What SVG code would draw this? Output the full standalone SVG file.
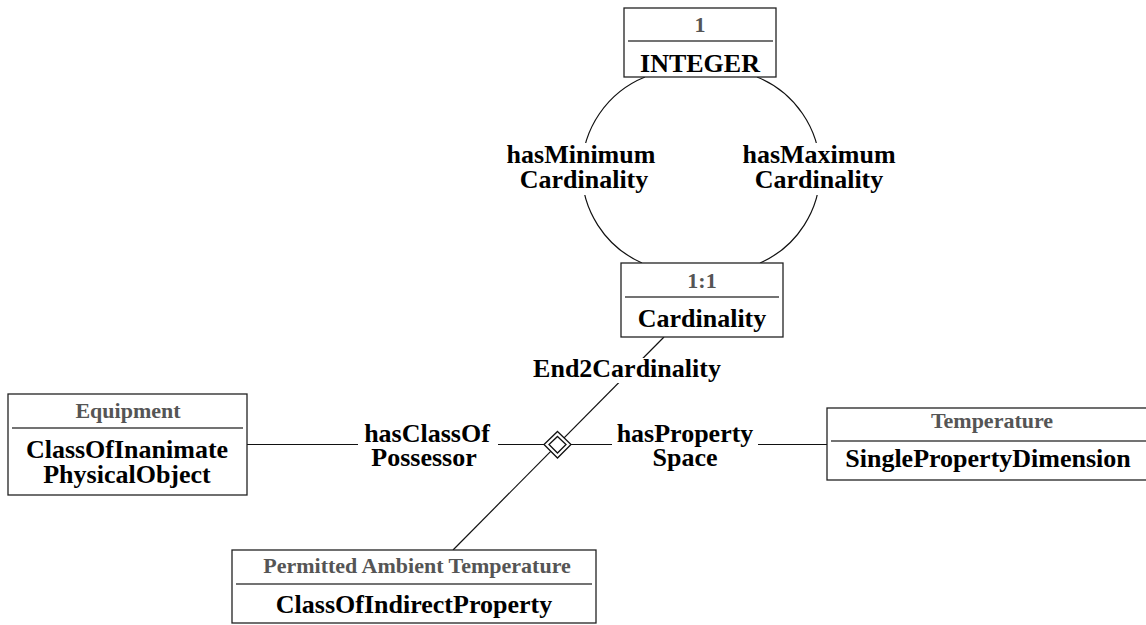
<svg xmlns="http://www.w3.org/2000/svg" width="1146" height="625" viewBox="0 0 1146 625" font-family="Liberation Serif, DejaVu Serif, serif" font-weight="bold">
  <style>
    .box { fill: #fff; stroke: #222; stroke-width: 1.3; }
    .div { stroke: #444; stroke-width: 1.5; }
    .hdr { font-size: 22px; fill: #555; text-anchor: middle; }
    .name { font-size: 26px; fill: #000; text-anchor: middle; }
    .conn { fill: none; stroke: #111; stroke-width: 1.2; }
    .lbl { font-size: 26px; fill: #000; text-anchor: middle; }
    .bg { fill: #fff; }
  </style>
  <rect width="1146" height="625" fill="#fff"/>

  <!-- connectors -->
  <g id="connectors">
    <path class="conn" d="M645,77 A101,101 0 0,0 642,263"/>
    <path class="conn" d="M757,77 A101,101 0 0,1 760,263"/>
    <line class="conn" x1="664" y1="337" x2="453" y2="550"/>
    <line class="conn" x1="247" y1="444.5" x2="827" y2="444.5"/>

    <!-- label backgrounds -->
    <rect class="bg" x="502" y="143" width="158" height="52"/>
    <rect class="bg" x="739" y="143" width="161" height="52"/>
    <rect class="bg" x="530" y="358" width="195" height="25"/>
    <rect class="bg" x="358" y="420" width="140" height="50"/>
    <rect class="bg" x="612" y="420" width="146" height="50"/>

    <text class="lbl" x="581" y="163">hasMinimum</text>
    <text class="lbl" x="584" y="188">Cardinality</text>
    <text class="lbl" x="819" y="163">hasMaximum</text>
    <text class="lbl" x="819" y="188">Cardinality</text>
    <text class="lbl" x="627" y="377">End2Cardinality</text>
    <text class="lbl" x="427" y="442">hasClassOf</text>
    <text class="lbl" x="424" y="466">Possessor</text>
    <text class="lbl" x="685" y="442">hasProperty</text>
    <text class="lbl" x="685" y="466">Space</text>

    <!-- aggregation diamond -->
    <polygon points="557.5,431.5 571,444.5 557.5,458 544,444.5" fill="#fff" stroke="#111" stroke-width="1.3"/>
    <polygon points="557.5,436.5 566,444.5 557.5,453 549,444.5" fill="#fff" stroke="#111" stroke-width="1.3"/>
  </g>

  <g id="integer">
    <rect class="box" x="624" y="8" width="152" height="69"/>
    <line class="div" x1="628" y1="41" x2="773" y2="41"/>
    <text class="hdr" x="700" y="32">1</text>
    <text class="name" x="700" y="72">INTEGER</text>
  </g>

  <g id="cardinality">
    <rect class="box" x="621" y="263" width="162" height="74"/>
    <line class="div" x1="625" y1="297" x2="779" y2="297"/>
    <text class="hdr" x="702" y="288">1:1</text>
    <text class="name" x="702" y="327">Cardinality</text>
  </g>

  <g id="equipment">
    <rect class="box" x="8" y="394" width="239" height="101"/>
    <line class="div" x1="12" y1="428" x2="243" y2="428"/>
    <text class="hdr" x="128" y="418">Equipment</text>
    <text class="name" x="127" y="458">ClassOfInanimate</text>
    <text class="name" x="127" y="483">PhysicalObject</text>
  </g>

  <g id="temperature">
    <rect class="box" x="827" y="408" width="323" height="72"/>
    <line class="div" x1="831" y1="441" x2="1146" y2="441"/>
    <text class="hdr" x="992" y="428">Temperature</text>
    <text class="name" x="988" y="467">SinglePropertyDimension</text>
  </g>

  <g id="permitted-ambient-temperature">
    <rect class="box" x="232" y="550" width="364" height="73"/>
    <line class="div" x1="236" y1="584" x2="592" y2="584"/>
    <text class="hdr" x="417" y="573">Permitted Ambient Temperature</text>
    <text class="name" x="414" y="613">ClassOfIndirectProperty</text>
  </g>
</svg>
